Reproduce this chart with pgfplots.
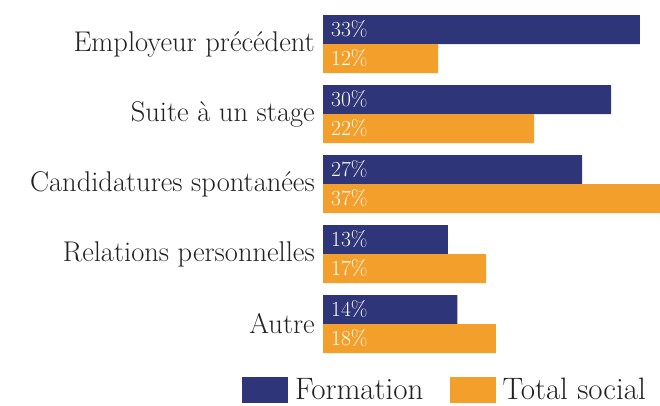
\documentclass[border=0pt]{standalone}
\usepackage{fontspec}
\usepackage{pgfplots}
\usepackage{pgfplotstable}
\pgfplotsset{compat=1.18}
\definecolor{navy}{HTML}{2E3578}
\definecolor{orng}{HTML}{F2A02B}
\definecolor{txt}{HTML}{222222}
\pgfplotstableread{
y v
0 14
1 13
2 27
3 30
4 33
}\formation
\pgfplotstableread{
y v
0 18
1 17
2 37
3 22
4 12
}\totalsocial
\begin{document}
\begin{tikzpicture}
\useasboundingbox (0,0) rectangle (660pt,405pt);
\begin{axis}[
 at={(323pt,46pt)}, anchor=south west,
 scale only axis, width=337pt, height=350pt,
 xmin=0, xmax=35.1, ymin=-0.5, ymax=4.5,
 axis line style={draw=none}, xtick=\empty,
 ytick={0,1,2,3,4},
 yticklabels={Autre, Relations personnelles, Candidatures spontanées, Suite à un stage, Employeur précédent},
 major tick length=0pt,
 yticklabel style={font=\fontsize{28.5}{30}\selectfont, text=txt, inner sep=0pt, anchor=east, xshift=-8pt},
 legend style={at={(-0.240,-0.088)}, anchor=west, draw=none, fill=none, text=txt,
   inner sep=0pt, outer sep=0pt, nodes={inner sep=0pt},
   font=\fontsize{31}{32}\selectfont, legend columns=2,
   /tikz/every even column/.append style={column sep=26pt}},
 legend image code/.code={\fill[#1] (0pt,-13pt) rectangle (46pt,13pt); \path (53pt,0pt);},
]
\addplot[xbar, bar width=29pt, fill=navy, draw=none, bar shift=14.5pt] table[x=v, y=y] {\formation};
\addplot[xbar, bar width=29pt, fill=orng, draw=none, bar shift=-14.5pt] table[x=v, y=y] {\totalsocial};
\legend{Formation, Total social}
\addplot[forget plot, draw=none, mark=none, point meta=explicit symbolic,
  nodes near coords={\pgfplotspointmeta\%},
  every node near coord/.append style={anchor=west, text=white, font=\fontsize{21.5}{22}\selectfont, yshift=14.5pt, xshift=8pt, inner sep=0pt}]
  table[x expr=0, y=y, meta=v] {\formation};
\addplot[forget plot, draw=none, mark=none, point meta=explicit symbolic,
  nodes near coords={\pgfplotspointmeta\%},
  every node near coord/.append style={anchor=west, text=white, font=\fontsize{21.5}{22}\selectfont, yshift=-14.5pt, xshift=8pt, inner sep=0pt}]
  table[x expr=0, y=y, meta=v] {\totalsocial};
\end{axis}
\end{tikzpicture}
\end{document}
